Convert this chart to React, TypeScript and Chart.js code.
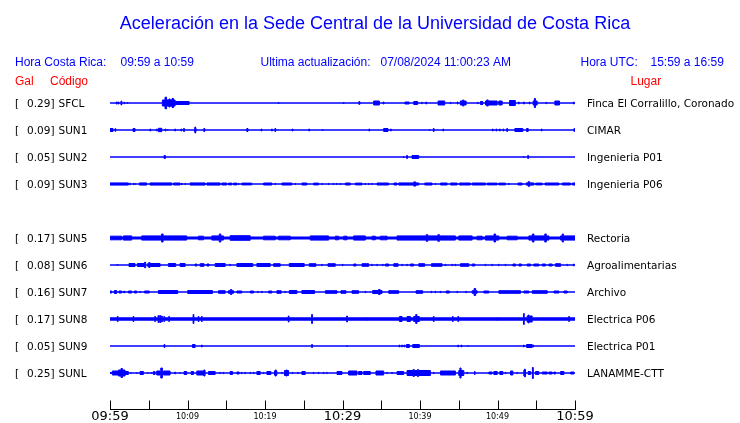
import React, { useEffect, useRef } from 'react';
import { Chart, registerables } from 'chart.js';

Chart.register(...registerables);

// ---------------- data ----------------
const stationCodes = ['SFCL', 'SUN1', 'SUN2', 'SUN3', 'SUN5', 'SUN6', 'SUN7', 'SUN8', 'SUN9', 'SUNL'];
const peakGal = [0.29, 0.09, 0.05, 0.09, 0.17, 0.08, 0.16, 0.17, 0.05, 0.25];
const places = [
  'Finca El Corralillo, Coronado',
  'CIMAR',
  'Ingenieria P01',
  'Ingenieria P06',
  'Rectoria',
  'Agroalimentarias',
  'Archivo',
  'Electrica P06',
  'Electrica P01',
  'LANAMME-CTT',
];
// slot of each trace (SUN4 slot is empty)
const rowSlots = [0, 1, 2, 3, 5, 6, 7, 8, 9, 10];
// background noise level of each trace
const baseNoise = [0.3, 0.3, 0.3, 0.5, 1.5, 0.3, 0.3, 1.7, 0.3, 0.3];
// minutes after 09:59
const xTickValues = [0, 10, 20, 30, 40, 50, 60];
const xTickLabels = ['09:59', '10:09', '10:19', '10:29', '10:39', '10:49', '10:59'];

// bursts: [start minute, end minute, amplitude]
const sfclBursts = [
  [0.8, 0.95, 1.5], [1.05, 1.15, 1.5], [1.42, 1.52, 2.5], [1.8, 1.9, 1.2], [2.2, 2.3, 1],
  [6.76, 8.4, 3.5], [7.1, 7.3, 6.3], [7.6, 7.75, 4.5], [8.0, 8.2, 5], [8.4, 10.21, 2],
  [21.7, 21.8, 1], [30.1, 30.2, 1], [32.1, 32.25, 1.8], [34.02, 34.75, 2.5], [35.25, 35.35, 1.5],
  [38.05, 38.6, 1.5], [39.19, 39.7, 2], [40.2, 40.3, 1.2], [40.75, 40.85, 1.5], [42.33, 43.19, 2.5],
  [43.9, 44.0, 1.2], [44.8, 44.9, 1.5], [45.2, 45.95, 2.5], [45.5, 45.65, 3.5], [47.4, 47.5, 1.2],
  [47.8, 48.1, 2], [48.45, 49.96, 2.5], [48.6, 48.8, 3.5], [50.17, 50.6, 2.5], [51.55, 52.3, 3],
  [52.7, 52.8, 1.5], [53.35, 53.45, 1.5], [54.1, 54.2, 1.5], [54.6, 55.12, 2.5], [54.75, 54.9, 5],
  [56.25, 56.35, 1.2], [57.4, 58.0, 2.5], [59.8, 59.9, 1.5],
];
const sun1Bursts = [
  [0, 0.39, 2], [0.65, 0.75, 1.8], [2.97, 3.23, 2], [5.15, 5.25, 1.5], [6.0, 6.1, 1.5],
  [6.24, 6.68, 2.2], [7.1, 7.2, 1.5], [7.4, 7.5, 1], [8.35, 8.45, 1.5], [9.15, 9.25, 1.5],
  [9.5, 9.6, 2], [10.9, 11.11, 2], [10.95, 11.05, 3.5], [12.1, 12.23, 2], [17.65, 17.8, 2],
  [19.5, 19.6, 1.5], [20.85, 20.95, 1.5], [21.28, 21.38, 2], [23.5, 23.6, 1.5], [25.65, 25.75, 1.5],
  [27.4, 27.5, 1], [33.4, 33.5, 1.5], [35.31, 35.87, 2], [36.2, 36.3, 1.5], [41.2, 41.3, 1],
  [41.72, 41.82, 2], [42.95, 43.05, 1.5], [49.35, 49.45, 1.5], [49.8, 49.9, 1.5], [50.25, 50.35, 1.5],
  [50.7, 50.8, 1.5], [51.2, 51.3, 2], [52.24, 53.27, 2], [53.75, 53.96, 2], [55.65, 55.75, 1.5],
  [59.85, 60, 1.8],
];
const sun2Bursts = [
  [6.98, 7.15, 2], [37.85, 37.95, 1], [38.28, 38.38, 2], [38.97, 39.84, 2], [53.35, 53.45, 1],
  [53.9, 54.0, 2],
];
const sun3Bursts = [
  [0, 2.37, 1.6], [2.55, 2.62, 1.4], [3.0, 3.05, 1.2], [3.2, 3.26, 1.2], [3.79, 4.74, 1.6],
  [5.17, 7.97, 1.6], [8.18, 9.04, 1.5], [9.24, 9.3, 1.4], [9.67, 9.72, 1.2], [10.34, 12.27, 1.6],
  [12.49, 14.21, 1.6], [14.43, 15.07, 1.5], [15.29, 15.72, 1.4], [15.93, 16.37, 1.4], [16.55, 16.62, 1.2],
  [17.01, 18.3, 1.4], [19.81, 20.89, 1.5], [21.3, 21.36, 1.2], [22.18, 23.47, 1.5], [23.88, 23.94, 1.2],
  [24.76, 25.41, 1.5], [26.27, 26.92, 1.4], [27.32, 27.38, 1.2], [28.18, 28.24, 1.2], [28.82, 28.88, 1.2],
  [29.25, 29.31, 1.2], [29.7, 29.76, 1.2], [30.36, 31.01, 1.5], [31.65, 32.52, 1.4], [32.92, 32.98, 1.2],
  [33.35, 33.41, 1.2], [33.78, 33.84, 1.2], [34.45, 35.96, 1.5], [36.61, 37.04, 1.5], [37.25, 39.84, 1.6],
  [39.2, 39.45, 2.6], [40.61, 41.56, 1.5], [41.96, 42.02, 1.2], [42.64, 43.5, 1.5], [43.93, 44.79, 1.5],
  [45.09, 46.51, 1.5], [46.73, 48.45, 1.5], [48.67, 49.96, 1.4], [50.17, 51.03, 1.4], [51.43, 51.49, 1.2],
  [52.63, 53.19, 1.5], [53.7, 54.69, 1.6], [53.95, 54.15, 2.8], [54.91, 55.77, 1.4], [56.12, 57.92, 1.5],
  [58.35, 59.43, 1.5], [59.65, 60, 1.5],
];
const sun5Bursts = [
  [0, 1.51, 2.3], [1.72, 2.8, 2.6], [4.09, 9.9, 2.6], [6.65, 6.85, 4.5], [11.41, 12.06, 2.3],
  [13.14, 14.64, 2.6], [14.1, 14.3, 4.5], [15.5, 18.09, 2.8], [19.81, 21.32, 2.3], [21.75, 23.26, 2.3],
  [25.84, 28.21, 2.6], [29.07, 29.5, 2.3], [30.15, 30.58, 2.3], [31.44, 32.95, 2.6], [33.81, 34.24, 2.3],
  [34.88, 35.75, 2.3], [37.04, 44.57, 2.6], [40.8, 41.0, 3.8], [42.3, 42.5, 3.8], [45.0, 46.73, 2.6],
  [47.37, 48.02, 2.3], [48.45, 50.17, 2.6], [49.55, 49.75, 4.5], [51.25, 52.54, 2.3], [54.05, 56.63, 2.6],
  [54.5, 54.7, 4.5], [56.1, 56.3, 4.5], [58.14, 60, 2.6], [58.35, 58.5, 4.5],
];
const sun6Bursts = [
  [0.9, 1.0, 1], [2.45, 3.23, 2], [3.53, 4.44, 2], [4.44, 4.61, 3.2], [4.87, 6.46, 2],
  [5.0, 5.15, 3], [7.54, 8.48, 2], [9.04, 9.69, 2], [10.98, 11.2, 1.5], [11.63, 12.14, 1.8],
  [12.49, 12.79, 1.5], [13.57, 14.86, 2], [15.45, 15.55, 1.2], [16.37, 18.43, 2], [18.95, 20.67, 2],
  [21.1, 21.96, 1.8], [23.13, 25.06, 2], [25.71, 26.57, 1.8], [27.3, 27.4, 1.2], [28.12, 29.07, 1.8],
  [29.97, 30.07, 1.2], [31.44, 31.74, 1.5], [32.52, 33.38, 1.8], [33.76, 33.86, 1.2], [34.4, 34.5, 1.2],
  [35.14, 35.24, 1.2], [35.53, 35.96, 1.5], [36.61, 37.17, 1.8], [37.63, 37.73, 1.2], [38.28, 38.38, 1.2],
  [38.76, 39.19, 1.5], [39.84, 40.61, 1.8], [41.47, 42.85, 1.8], [43.23, 43.33, 1.2], [44.1, 44.2, 1.2],
  [44.52, 44.62, 1.2], [45.22, 46.3, 1.8], [46.73, 47.07, 1.5], [48.4, 48.5, 1.2], [49.26, 49.36, 1.2],
  [50.12, 50.22, 1.2], [50.98, 51.08, 1.2], [51.98, 52.33, 1.5], [52.76, 53.1, 1.5], [53.83, 54.26, 1.5],
  [54.69, 55.34, 1.5], [55.77, 56.2, 1.5], [56.63, 57.06, 1.5], [57.49, 58.14, 1.8], [58.95, 59.05, 1.2],
  [59.8, 59.9, 1.5],
];
const sun7Bursts = [
  [0, 0.22, 1.5], [0.56, 0.86, 2], [1.16, 1.51, 1.5], [1.72, 1.94, 1.2], [2.37, 2.8, 1.5],
  [3.14, 3.45, 1.5], [3.85, 3.92, 1.2], [4.44, 5.08, 1.5], [6.24, 8.74, 2], [10.03, 13.22, 2],
  [14.0, 14.86, 1.8], [15.29, 15.93, 1.8], [15.55, 15.7, 3], [16.37, 17.01, 1.5], [18.09, 18.52, 1.5],
  [19.05, 19.12, 1.2], [19.55, 19.65, 1.2], [20.46, 20.89, 1.5], [21.53, 22.09, 1.8], [22.55, 22.65, 1.2],
  [23.13, 24.12, 2], [24.76, 26.4, 2], [27.78, 29.29, 1.8], [29.8, 30.45, 1.8], [31.22, 32.08, 1.8],
  [32.9, 33.0, 1.2], [33.89, 35.1, 2], [34.65, 34.85, 3], [35.96, 37.25, 1.8], [39.49, 40.35, 1.8],
  [41.42, 41.52, 1.2], [41.94, 42.04, 1.2], [42.6, 42.7, 1.2], [43.37, 43.8, 1.5], [44.75, 44.85, 1.2],
  [45.9, 46.0, 1.2], [46.73, 47.37, 1.8], [46.98, 47.18, 4], [48.23, 48.88, 1.5], [50.17, 52.97, 1.8],
  [53.4, 54.05, 1.5], [54.48, 56.42, 1.8], [57.28, 57.92, 1.5], [58.57, 59.0, 1.5],
];
const sun8Bursts = [
  [0.95, 1.05, 3], [2.97, 3.07, 3], [5.77, 5.87, 3], [6.2, 6.3, 4], [6.42, 6.52, 4],
  [6.64, 6.74, 3.5], [6.94, 7.04, 3], [7.58, 7.68, 3], [10.72, 10.82, 5], [11.37, 11.47, 3],
  [11.8, 11.9, 3], [23.0, 23.1, 3.5], [26.02, 26.12, 5], [30.54, 30.64, 3.5], [33.12, 33.2, 2],
  [37.34, 37.68, 3], [38.33, 38.76, 3], [39.19, 39.92, 3], [39.45, 39.6, 5], [41.72, 41.82, 3],
  [44.18, 44.28, 3], [44.88, 44.98, 3], [49.92, 50.0, 2], [53.35, 53.45, 6], [53.83, 54.48, 3.5],
  [53.95, 54.05, 4.5], [59.18, 59.28, 3],
];
const sun9Bursts = [
  [6.97, 7.07, 2], [10.64, 10.98, 2], [11.8, 11.9, 1.5], [26.02, 26.12, 2], [30.54, 30.64, 1],
  [37.3, 37.38, 1.5], [37.64, 37.72, 1.5], [37.94, 38.02, 1.5], [38.24, 38.63, 2], [39.06, 39.92, 2],
  [44.88, 44.96, 1.5], [45.31, 45.39, 1.5], [46.17, 46.25, 1], [53.36, 53.44, 1.5], [53.75, 54.48, 2],
  [54.57, 54.65, 1.5],
];
const sunlBursts = [
  [0, 0.22, 1], [0.3, 1.08, 2.5], [1.08, 1.94, 3.5], [1.42, 1.6, 5], [1.94, 2.37, 2],
  [2.67, 2.75, 1], [3.41, 3.49, 1], [3.88, 4.31, 2], [4.83, 4.91, 1], [5.34, 5.42, 1],
  [5.6, 5.81, 2], [6.03, 6.46, 2.5], [6.55, 6.76, 5.5], [6.89, 7.75, 2.5], [8.36, 8.44, 1.5],
  [9.0, 9.08, 1], [9.56, 9.9, 2], [10.47, 10.77, 2], [11.2, 12.27, 2.5], [12.1, 12.25, 3.5],
  [12.7, 13.57, 2], [14.17, 14.25, 1.2], [14.6, 14.68, 1.2], [15.5, 15.81, 2], [16.37, 16.67, 1.5],
  [16.97, 17.05, 1.2], [17.4, 17.48, 1.2], [18.05, 18.13, 1.2], [18.48, 18.56, 1.2], [18.95, 19.38, 2],
  [19.77, 19.85, 1.2], [20.24, 20.76, 2], [21.23, 21.53, 2.5], [21.3, 21.45, 3.5], [22.14, 22.22, 1.2],
  [22.52, 23.04, 3], [22.7, 22.85, 3.5], [23.52, 23.6, 1.2], [24.21, 24.29, 1.2], [24.76, 25.19, 2],
  [26.23, 26.31, 1.2], [26.88, 26.96, 1.2], [27.52, 27.6, 1.2], [27.95, 28.03, 1.2], [29.29, 29.93, 2],
  [30.79, 31.87, 2.5], [32.08, 32.52, 2], [32.73, 33.59, 2], [34.32, 35.31, 2.5], [35.71, 35.79, 1.2],
  [36.35, 36.43, 1.2], [37.04, 37.9, 2], [38.33, 41.34, 3], [39.12, 39.26, 4], [39.68, 39.82, 4],
  [41.73, 41.81, 1.2], [42.64, 44.57, 2.5], [45.0, 45.65, 3], [45.15, 45.3, 5.5], [46.04, 46.12, 1.2],
  [47.03, 47.11, 2], [48.88, 49.31, 1.5], [49.53, 49.96, 2], [50.3, 50.69, 2], [51.0, 51.08, 1.2],
  [51.68, 51.98, 2.5], [52.5, 52.58, 1.2], [53.4, 53.62, 3.5], [53.5, 53.58, 4.5], [53.96, 54.26, 2],
  [54.5, 54.62, 6], [54.91, 55.34, 2], [55.77, 56.42, 1.5], [56.63, 57.06, 1.5], [57.28, 57.49, 1.5],
  [58.14, 58.57, 2], [59.43, 59.86, 1.5],
];
const traceBursts = [
  sfclBursts, sun1Bursts, sun2Bursts, sun3Bursts, sun5Bursts,
  sun6Bursts, sun7Bursts, sun8Bursts, sun9Bursts, sunlBursts,
];

// ---------------- helpers ----------------
const AMP_SCALE = 1 / 27; // amplitude unit -> row units
const STROKE_HALF = 0.5; // half of the stroke width, in amplitude units
const TRACE_COLOR = '#0000ff';

function envelope(list: number[][], base: number) {
  const set = new Set<number>([0, 60]);
  list.forEach(([s, e]) => { set.add(s); set.add(e); });
  const times = Array.from(set).sort((a, b) => a - b);
  return times.map((t, i) => {
    if (i === times.length - 1) return { x: t, a: base };
    const mid = (t + times[i + 1]) / 2;
    let a = base;
    list.forEach(([s, e, amp]) => {
      if (mid >= s && mid <= e && amp > a) a = amp;
    });
    return { x: t, a };
  });
}

function buildDatasets() {
  const ds: any[] = [];
  traceBursts.forEach((list, i) => {
    const row = rowSlots[i];
    const env = envelope(list, baseNoise[i]);
    [-1, 1].forEach((sign) => {
      ds.push({
        type: 'line',
        label: stationCodes[i] + (sign < 0 ? '+' : '-'),
        data: env.map((p) => ({ x: p.x, y: row + sign * Math.max(p.a - STROKE_HALF, 0) * AMP_SCALE })),
        stepped: true,
        borderColor: TRACE_COLOR,
        backgroundColor: TRACE_COLOR,
        borderWidth: 1,
        pointRadius: 0,
        fill: { value: row },
        tension: 0,
      });
    });
  });
  return ds;
}

const textPlugin = {
  id: 'seismoText',
  afterDraw(chart: any) {
    const ctx = chart.ctx;
    const xs = chart.scales.x;
    const ys = chart.scales.y;
    const area = chart.chartArea;
    ctx.save();
    // title
    ctx.fillStyle = '#0000ff';
    ctx.textBaseline = 'alphabetic';
    ctx.textAlign = 'center';
    ctx.font = '18px "Liberation Sans", Arial, sans-serif';
    ctx.fillText('Aceleración en la Sede Central de la Universidad de Costa Rica', 375, 29);
    // header
    ctx.textAlign = 'left';
    ctx.font = '12px "Liberation Sans", Arial, sans-serif';
    ctx.fillText('Hora Costa Rica:', 15, 66);
    ctx.fillText('09:59 a 10:59', 120.5, 66);
    ctx.fillText('Ultima actualización:', 260.5, 66);
    ctx.fillText('07/08/2024 11:00:23 AM', 380.5, 66);
    ctx.fillText('Hora UTC:', 580.5, 66);
    ctx.fillText('15:59 a 16:59', 650.5, 66);
    ctx.fillStyle = '#ff0000';
    ctx.fillText('Gal', 15, 85);
    ctx.fillText('Código', 50, 85);
    ctx.fillText('Lugar', 630.5, 85);
    // station labels
    ctx.fillStyle = '#000000';
    ctx.font = '10.5px "DejaVu Sans", sans-serif';
    stationCodes.forEach((code, i) => {
      const y = ys.getPixelForValue(rowSlots[i]) + 4;
      ctx.textAlign = 'left';
      ctx.fillText('[', 15, y);
      ctx.textAlign = 'right';
      ctx.fillText(peakGal[i].toFixed(2) + ']', 54.5, y);
      ctx.textAlign = 'left';
      ctx.fillText(code, 58.5, y);
      ctx.fillText(places[i], 587, y);
    });
    // time axis with upward ticks
    ctx.strokeStyle = '#000000';
    ctx.lineWidth = 1;
    ctx.beginPath();
    const yb = Math.round(area.bottom) + 0.5;
    ctx.moveTo(xs.getPixelForValue(0), yb);
    ctx.lineTo(xs.getPixelForValue(60) + 1, yb);
    for (let v = 0; v <= 60; v += 5) {
      const px = Math.round(xs.getPixelForValue(v)) + 0.5;
      ctx.moveTo(px, yb);
      ctx.lineTo(px, yb - 9);
    }
    ctx.stroke();
    ctx.restore();
  },
};

export default function App() {
  const ref = useRef<HTMLCanvasElement | null>(null);
  useEffect(() => {
    if (!ref.current) return;
    const chart = new Chart(ref.current, {
      type: 'line',
      data: { datasets: buildDatasets() },
      options: {
        responsive: false,
        animation: false,
        events: [],
        layout: { padding: { left: 110, right: 165, top: 76, bottom: 0 } },
        plugins: { legend: { display: false }, tooltip: { enabled: false }, title: { display: false } },
        scales: {
          x: {
            type: 'linear',
            min: 0,
            max: 60,
            grid: { display: false, drawTicks: false },
            border: { display: false },
            afterFit: (scale: any) => { scale.height = 14; },
            afterBuildTicks: (scale: any) => {
              const t: any[] = [];
              for (let v = 0; v <= 60; v += 5) t.push({ value: v });
              scale.ticks = t;
            },
            ticks: {
              autoSkip: false,
              maxRotation: 0,
              minRotation: 0,
              padding: 1,
              color: '#000000',
              callback: (v: any) => {
                const idx = xTickValues.indexOf(Number(v));
                return idx >= 0 ? xTickLabels[idx] : '';
              },
              font: (c: any) => {
                const v = c.tick ? c.tick.value : 0;
                return v % 30 === 0
                  ? { family: '"DejaVu Sans", sans-serif', size: 13, lineHeight: '14px' }
                  : { family: '"DejaVu Sans", sans-serif', size: 8, lineHeight: '14px' };
              },
            },
          },
          y: {
            type: 'linear',
            reverse: true,
            min: -1,
            max: 34 / 3,
            bounds: 'data',
            display: false,
          },
        },
      },
      plugins: [textPlugin],
    } as any);
    return () => chart.destroy();
  }, []);
  return (
    <div style={{ position: 'fixed', left: 0, top: 0, width: 740, height: 423, background: '#ffffff' }}>
      <canvas ref={ref} width={740} height={423} style={{ display: 'block' }} />
    </div>
  );
}
